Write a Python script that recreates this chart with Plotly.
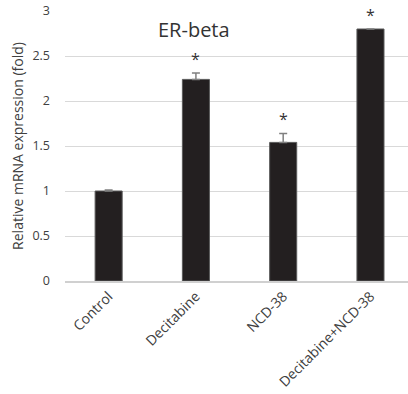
import plotly.graph_objects as go

categories = ["Control", "Decitabine", "NCD-38", "Decitabine+NCD-38"]
expression = [1.0, 2.24, 1.54, 2.80]
errors = [0.01, 0.07, 0.10, 0.0]
significant = ["", "*", "*", "*"]
y_ticks = [0, 0.5, 1, 1.5, 2, 2.5, 3]
y_tick_labels = ["0", "0.5", "1", "1.5", "2", "2.5", "3"]

font_family = "Open Sans, Liberation Sans, sans-serif"

fig = go.Figure()
fig.add_trace(go.Bar(
    x=categories,
    y=expression,
    width=0.31,
    marker=dict(color="#231f20", line=dict(color="#5a5a5a", width=1)),
    error_y=dict(type="data", symmetric=False, array=errors,
                 arrayminus=[0] * len(errors), visible=True,
                 color="#808080", thickness=1.5, width=4),
    showlegend=False,
))

# significance markers above each error bar
for cat, val, err, mark in zip(categories, expression, errors, significant):
    if mark:
        fig.add_annotation(x=cat, y=val + err, text=mark, showarrow=False,
                           yanchor="bottom", yshift=1,
                           font=dict(size=16, color="#333333", family=font_family))

fig.add_annotation(text="ER-beta", xref="paper", yref="paper",
                   x=0.375, y=0.93, showarrow=False, yanchor="middle",
                   font=dict(size=20, color="#333333", family=font_family))

fig.update_layout(
    width=408, height=394,
    margin=dict(l=65, r=0, t=11, b=113),
    plot_bgcolor="white", paper_bgcolor="white",
    font=dict(family=font_family, color="#404040", size=12),
    xaxis=dict(range=[-0.5, 3.43], tickangle=-45, showgrid=False,
               showline=True, linecolor="#d0d0d0", linewidth=1.5,
               ticks="", tickfont=dict(size=14)),
    yaxis=dict(range=[0, 3], tickvals=y_ticks, ticktext=y_tick_labels,
               showgrid=True, gridcolor="#d9d9d9", gridwidth=1,
               zeroline=False, ticks="", ticklabelstandoff=14,
               title=dict(text="Relative mRNA expression (fold)",
                          font=dict(size=14, color="#404040"), standoff=5),
               tickfont=dict(size=12.5)),
)

fig.write_html("out.html")
